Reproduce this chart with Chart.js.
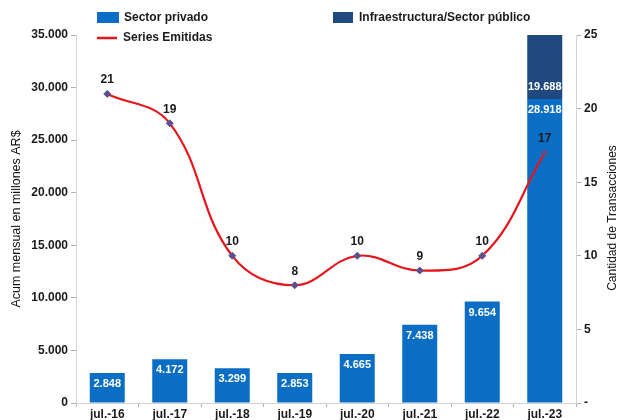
<!DOCTYPE html>
<html>
<head>
<meta charset="utf-8">
<script src="https://cdn.jsdelivr.net/npm/chart.js@4.4.1/dist/chart.umd.min.js"></script>
<style>
  html, body { margin: 0; padding: 0; background: #fff; }
  #wrap { position: relative; width: 620px; height: 420px; }
</style>
</head>
<body>
<div id="wrap"><canvas id="c" width="620" height="420"></canvas></div>
<script>
// Emisiones mensuales (julio de cada año)
const labels = ['jul.-16', 'jul.-17', 'jul.-18', 'jul.-19', 'jul.-20', 'jul.-21', 'jul.-22', 'jul.-23'];
const sectorPrivado = [2848, 4172, 3299, 2853, 4665, 7438, 9654, 28918];
const sectorPublico = [null, null, null, null, null, null, null, 19688];
const seriesEmitidas = [21, 19, 10, 8, 10, 9, 10, 17];
const leftTicks = [0, 5000, 10000, 15000, 20000, 25000, 30000, 35000];
const rightTicks = [0, 5, 10, 15, 20, 25];

const BLUE = '#0a6ec4';
const NAVY = '#1f497f';
const RED = '#e8141c';
const TEXT = '#1a1a1a';
const AXIS = '#d4d4d4';
const FONT = 'Liberation Sans, Arial, sans-serif';

const fmt = (v) => v.toLocaleString('de-DE');

// legend and right-hand title drawn by hand, as in the source image
const legendPlugin = {
  id: 'topLegend',
  afterDraw(chart) {
    const ctx = chart.ctx;
    ctx.save();
    ctx.font = `bold 12px ${FONT}`;
    ctx.textBaseline = 'middle';
    ctx.fillStyle = BLUE;
    ctx.fillRect(97, 12, 22, 11);
    ctx.fillStyle = NAVY;
    ctx.fillRect(333, 12, 20, 11);
    ctx.strokeStyle = RED;
    ctx.lineWidth = 2.5;
    ctx.beginPath();
    ctx.moveTo(97, 38);
    ctx.lineTo(117, 38);
    ctx.stroke();
    ctx.fillStyle = TEXT;
    ctx.fillText('Sector privado', 124, 18);
    ctx.fillText('Infraestructura/Sector público', 359, 18);
    ctx.fillText('Series Emitidas', 123, 38);

    ctx.translate(613, 218);
    ctx.rotate(-Math.PI / 2);
    ctx.textAlign = 'center';
    ctx.font = `12px ${FONT}`;
    ctx.fillStyle = '#111';
    ctx.fillText('Cantidad de Transacciones', 0, 0);
    ctx.restore();
  },
};

const valueLabels = {
  id: 'valueLabels',
  afterDatasetsDraw(chart) {
    const ctx = chart.ctx;
    ctx.save();
    ctx.textAlign = 'center';
    ctx.textBaseline = 'middle';
    chart.data.datasets.forEach((ds, i) => {
      const meta = chart.getDatasetMeta(i);
      meta.data.forEach((el, j) => {
        const v = ds.data[j];
        if (v === null || v === undefined) return;
        if (ds.type === 'line') {
          ctx.font = `bold 12px ${FONT}`;
          ctx.fillStyle = TEXT;
          ctx.fillText(String(v), el.x, el.y - 14);
        } else if (i === 0) {
          ctx.font = `bold 11px ${FONT}`;
          ctx.fillStyle = '#ffffff';
          ctx.fillText(fmt(v), el.x, el.y + 11);
        } else {
          ctx.font = `bold 11px ${FONT}`;
          ctx.fillStyle = '#ffffff';
          ctx.fillText(fmt(v), el.x, el.base - 12);
        }
      });
    });
    ctx.restore();
  },
};

new Chart(document.getElementById('c'), {
  type: 'bar',
  data: {
    labels,
    datasets: [
      {
        label: 'Sector privado',
        data: sectorPrivado,
        backgroundColor: BLUE,
        stack: 's',
        yAxisID: 'y',
        order: 2,
        barPercentage: 0.56,
        categoryPercentage: 1,
      },
      {
        label: 'Infraestructura/Sector público',
        data: sectorPublico,
        backgroundColor: NAVY,
        stack: 's',
        yAxisID: 'y',
        order: 2,
        barPercentage: 0.56,
        categoryPercentage: 1,
      },
      {
        type: 'line',
        label: 'Series Emitidas',
        data: seriesEmitidas,
        borderColor: RED,
        borderWidth: 2.2,
        tension: 0.4,
        pointStyle: 'rectRot',
        pointRadius: 3.5,
        pointBackgroundColor: '#5c4f8e',
        pointBorderColor: '#5c4f8e',
        pointBorderWidth: 1,
        yAxisID: 'y1',
        order: 0,
      },
    ],
  },
  options: {
    responsive: false,
    animation: false,
    layout: { padding: { top: 35, left: 0, right: 0, bottom: 0 } },
    plugins: {
      legend: { display: false },
      tooltip: { enabled: false },
    },
    scales: {
      x: {
        stacked: true,
        border: { color: AXIS },
        grid: { display: true, drawOnChartArea: false, offset: true, tickLength: 4, color: '#b0b0b0' },
        ticks: { color: TEXT, font: { family: FONT, size: 12, weight: 'bold' }, padding: 0, maxRotation: 0 },
        afterFit: (s) => { s.height = 17; },
      },
      y: {
        stacked: true,
        min: 0,
        max: 35000,
        afterBuildTicks: (s) => { s.ticks = leftTicks.map((v) => ({ value: v })); },
        border: { color: AXIS },
        grid: { drawOnChartArea: false, tickLength: 5, color: '#b0b0b0' },
        ticks: {
          color: TEXT,
          font: { family: FONT, size: 12, weight: 'bold' },
          padding: 3,
          callback: (v) => fmt(v),
        },
        title: {
          display: true,
          text: 'Acum mensual en millones AR$',
          color: '#111',
          font: { family: FONT, size: 12.5 },
          padding: { top: 9, bottom: 0 },
        },
        afterFit: (s) => { s.width = 76; },
      },
      y1: {
        position: 'right',
        min: 0,
        max: 25,
        afterBuildTicks: (s) => { s.ticks = rightTicks.map((v) => ({ value: v })); },
        border: { color: AXIS },
        grid: { drawOnChartArea: false, tickLength: 5, color: '#b0b0b0' },
        ticks: {
          color: TEXT,
          font: { family: FONT, size: 12, weight: 'bold' },
          padding: 3,
          callback: (v) => (v === 0 ? '-' : String(v)),
        },
        afterFit: (s) => { s.width = 44; },
      },
    },
  },
  plugins: [valueLabels, legendPlugin],
});
</script>
</body>
</html>
